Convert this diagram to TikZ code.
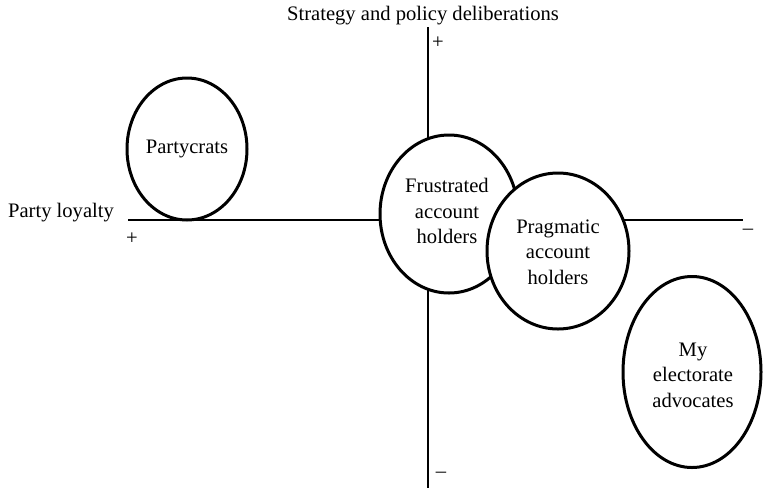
\documentclass[tikz,border=0pt]{standalone}
\usepackage{fontspec}
\setmainfont{Liberation Serif}
\usetikzlibrary{shapes.geometric}
\begin{document}
\begin{tikzpicture}[x=1pt,y=-1pt,
  lab/.style={font=\fontsize{20.6}{25.5}\selectfont, inner sep=0pt},
  grp/.style={draw=black, line width=3pt, fill=white, ellipse, inner sep=0pt},
  axis/.style={line width=2.4pt}]
\useasboundingbox (0,0) rectangle (765,488);
\coordinate (hl) at (128,220);
\coordinate (hr) at (743,220);
\coordinate (vt) at (428,27);
\coordinate (vb) at (428,488);
\draw[axis] (hl) -- (hr);
\draw[axis] (vt) -- (vb);
\node[lab] (ylab) at (423,16) {Strategy and policy deliberations};
\node[lab] (xlab) at (61,213) {Party loyalty};
\node[lab] (yplus) at (438,43) {+};
\node[lab] (yminus) at (441,475) {–};
\node[lab] (xplus) at (132,239) {+};
\node[lab] (xminus) at (748,232) {–};
\node[grp, minimum width=120pt, minimum height=142pt] (party) at (187,149) {};
\node[lab] at (party.center) {Partycrats};
\node[grp, minimum width=138pt, minimum height=158pt] (frus) at (449,214) {};
\node[lab, align=center] at (447,211) {Frustrated\\account\\holders};
\node[grp, minimum width=142pt, minimum height=156pt] (prag) at (558,251) {};
\node[lab, align=center] at (558,252) {Pragmatic\\account\\holders};
\node[grp, minimum width=138pt, minimum height=191pt] (elec) at (692,372) {};
\node[lab, align=center] at (693,375) {My\\electorate\\advocates};
\end{tikzpicture}
\end{document}
